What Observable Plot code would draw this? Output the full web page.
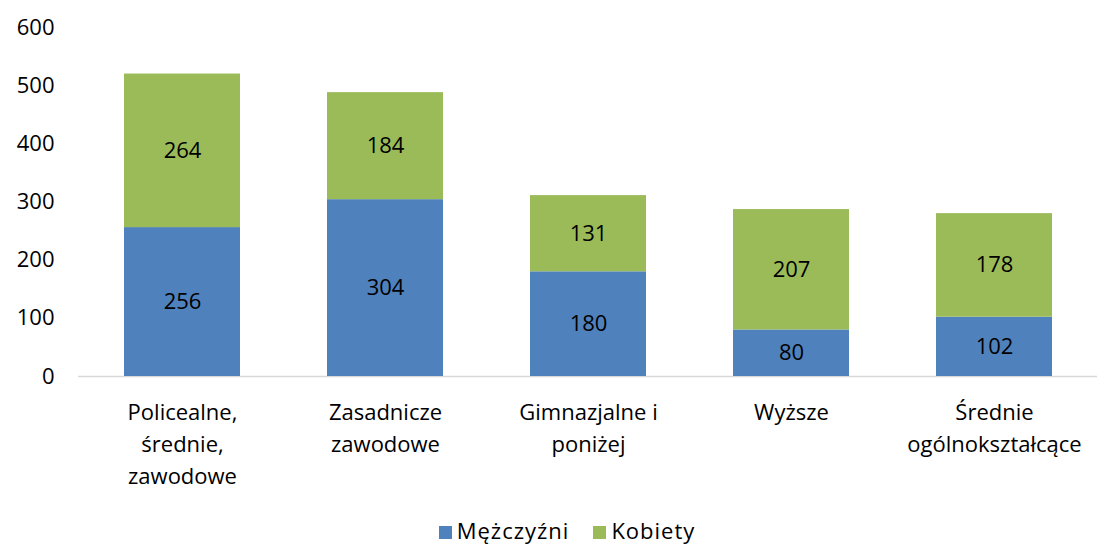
<!DOCTYPE html>
<html><head><meta charset="utf-8">
<script src="https://cdn.jsdelivr.net/npm/d3@7"></script>
<script src="https://cdn.jsdelivr.net/npm/@observablehq/plot@0.6"></script>
<style>
body{margin:0;background:#fff;font-family:"Open Sans",sans-serif;}
#legend{display:flex;justify-content:center;gap:24px;font-size:22px;letter-spacing:1px;color:#000;height:34px;align-items:center;margin-left:36px}
#legend span.sw{display:inline-block;width:13px;height:13px;margin-right:5px;vertical-align:0px}
</style></head>
<body><div id="chart"></div><div id="legend"></div>
<script>
const categories = ["Policealne, średnie, zawodowe","Zasadnicze zawodowe","Gimnazjalne i poniżej","Wyższe","Średnie ogólnokształcące"];
const tickLabels = ["Policealne,\nśrednie,\nzawodowe","Zasadnicze\nzawodowe","Gimnazjalne i\nponiżej","Wyższe","Średnie\nogólnokształcące"];
const series = ["Mężczyźni","Kobiety"];
const men = [256,304,180,80,102];
const women = [264,184,131,207,178];
const colors = ["#4F81BD","#9BBB59"];
const yTicks = [0,100,200,300,400,500,600];

const data = [];
categories.forEach((c,i)=>{
  data.push({cat:c, series:series[0], value:men[i]});
  data.push({cat:c, series:series[1], value:women[i]});
});
const labelMap = new Map(categories.map((c,i)=>[c,tickLabels[i]]));

const chart = Plot.plot({
  width:1098, height:513,
  marginLeft:78, marginRight:1, marginTop:27, marginBottom:137,
  style:{fontFamily:"'Open Sans',sans-serif", fontSize:"22px", color:"#000", background:"#fff"},
  x:{domain:categories, paddingInner:0.43, paddingOuter:0.215, label:null},
  y:{domain:[0,600], label:null},
  color:{domain:series, range:colors},
  marks:[
    Plot.axisY({ticks:yTicks, tickSize:0, tickPadding:24, fontSize:22, label:null}),
    Plot.axisX({tickSize:0, tickPadding:21, fontSize:22, lineHeight:1.45, tickFormat:d=>labelMap.get(d), label:null}),
    Plot.ruleY([0], {stroke:"#d9d9d9", strokeWidth:1.5}),
    Plot.barY(data, Plot.stackY({x:"cat", y:"value", fill:"series", order:series})),
    Plot.text(data, Plot.stackY({x:"cat", y:"value", z:"series", order:series, text:d=>String(d.value), fontSize:22, fill:"#000"}))
  ]
});
document.getElementById("chart").append(chart);
const lg = document.getElementById("legend");
series.forEach((s,i)=>{
  const el=document.createElement("div");
  el.innerHTML=`<span class="sw" style="background:${colors[i]}"></span>${s}`;
  lg.append(el);
});
</script></body></html>
